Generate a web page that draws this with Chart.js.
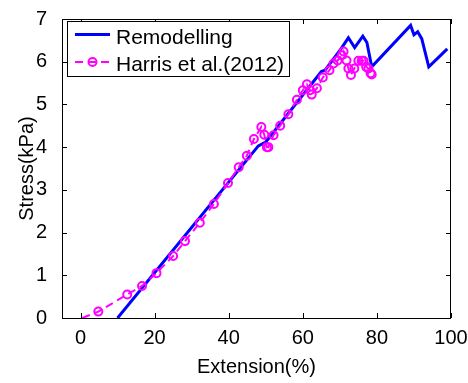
<!DOCTYPE html>
<html>
<head>
<meta charset="utf-8">
<script src="https://cdn.jsdelivr.net/npm/chart.js@4.4.0/dist/chart.umd.min.js"></script>
<style>
html, body { margin: 0; padding: 0; background: #fff; }
#wrap { width: 468px; height: 383px; }
</style>
</head>
<body>
<div id="wrap"><canvas id="chart"></canvas></div>
<script>
// valeurs
const remodX = [10, 48, 50, 65, 66, 70.3, 72.3, 74, 76.2, 77.3, 78.6, 89.1, 90, 91, 92.1, 94, 99];
const remodY = [0, 4.03, 4.12, 5.77, 5.8, 6.3, 6.56, 6.33, 6.6, 6.45, 5.88, 6.85, 6.63, 6.7, 6.54, 5.88, 6.3];

const harrisX = [0.5, 4.8, 12.6, 16.6, 20.5, 25, 28.2, 32.2, 36, 39.8, 42.7, 44.9, 46.8, 48.8, 49.6, 50.3, 50.7,
    52.1, 53.9, 56.1, 58.4, 60, 61.1, 62, 62.4, 63.8, 65.4, 67.2, 68.3, 69.4, 70.5, 71, 71.8, 72.3, 73,
    73.9, 75, 75.9, 76.4, 77.1, 77.7, 78.3, 78.6];
const harrisY = [0, 0.15, 0.55, 0.75, 1.05, 1.45, 1.8, 2.23, 2.67, 3.16, 3.53, 3.8, 4.19, 4.47, 4.29, 4.0, 4.0,
    4.28, 4.5, 4.77, 5.11, 5.33, 5.47, 5.33, 5.23, 5.38, 5.63, 5.8, 5.96, 6.03, 6.15, 6.24, 6.03, 5.84, 5.69,
    5.84, 6.02, 6.02, 6.02, 5.88, 5.84, 5.73, 5.7];

const xTicks = [0, 20, 40, 60, 80, 100];
const yTicks = [0, 1, 2, 3, 4, 5, 6, 7];

const FONT = '"Liberation Sans", Arial, sans-serif';
Chart.defaults.font.family = FONT;
Chart.defaults.color = "#000";

const toPoints = (xs, ys) => xs.map((v, i) => ({ x: v, y: ys[i] }));

// cadre + graduations vers l'intérieur + légende (style matlab)
const boxPlugin = {
    id: 'box',
    afterDraw(chart) {
        const { ctx, chartArea: a, scales: { x, y } } = chart;
        ctx.save();
        ctx.strokeStyle = "#000";
        ctx.lineWidth = 1;
        ctx.strokeRect(a.left + 0.5, a.top + 0.5, a.right - a.left - 1, a.bottom - a.top);
        ctx.beginPath();
        xTicks.forEach(v => {
            const px = Math.round(x.getPixelForValue(v)) + 0.5;
            ctx.moveTo(px, a.bottom); ctx.lineTo(px, a.bottom - 5);
            ctx.moveTo(px, a.top); ctx.lineTo(px, a.top + 5);
        });
        yTicks.forEach(v => {
            const py = Math.round(y.getPixelForValue(v)) + 0.5;
            ctx.moveTo(a.left, py); ctx.lineTo(a.left + 5, py);
            ctx.moveTo(a.right, py); ctx.lineTo(a.right - 5, py);
        });
        ctx.stroke();

        // légende
        const lx = 67.5, ly = 21.5, lw = 222, lh = 55;
        ctx.fillStyle = "#fff";
        ctx.fillRect(lx, ly, lw, lh);
        ctx.strokeRect(lx, ly, lw, lh);
        const ds = chart.data.datasets;
        ctx.font = '21px ' + FONT;
        ctx.fillStyle = "#000";
        ctx.textBaseline = 'alphabetic';

        ctx.strokeStyle = ds[0].borderColor;
        ctx.lineWidth = ds[0].borderWidth;
        ctx.beginPath(); ctx.moveTo(75, 34.5); ctx.lineTo(110, 34.5); ctx.stroke();
        ctx.fillText(ds[0].label, 116, 44);

        ctx.strokeStyle = ds[1].borderColor;
        ctx.lineWidth = ds[1].borderWidth;
        ctx.setLineDash(ds[1].borderDash);
        ctx.beginPath(); ctx.moveTo(75, 62); ctx.lineTo(110, 62); ctx.stroke();
        ctx.setLineDash([]);
        ctx.beginPath(); ctx.arc(92.5, 62, 4, 0, Math.PI * 2); ctx.stroke();
        ctx.fillText(ds[1].label, 116, 71);
        ctx.restore();
    }
};

const ctx0 = document.getElementById("chart");

const chart = new Chart(ctx0, {
    type: "line",
    data: {
        datasets: [{
            label: "Remodelling",
            data: toPoints(remodX, remodY),
            borderColor: "#0000ff",
            backgroundColor: "#0000ff",
            borderWidth: 3,
            pointRadius: 0,
            tension: 0,
            order: 2
        }, {
            label: "Harris et al.(2012)",
            data: toPoints(harrisX, harrisY),
            borderColor: "#ff00ff",
            backgroundColor: "rgba(0,0,0,0)",
            borderWidth: 2,
            borderDash: [8, 5],
            pointStyle: 'circle',
            pointRadius: c => c.dataIndex === 0 ? 0 : 4,
            pointBorderWidth: 2,
            pointBorderColor: "#ff00ff",
            pointBackgroundColor: "rgba(0,0,0,0)",
            tension: 0,
            order: 1
        }]
    },
    options: {
        responsive: true,
        maintainAspectRatio: false,
        animation: false,
        layout: { padding: { top: 15, right: 17, left: 0, bottom: 0 } },
        plugins: {
            legend: { display: false },
            tooltip: { enabled: false }
        },
        scales: {
            x: {
                type: 'linear',
                min: -5,
                max: 100,
                afterBuildTicks: s => { s.ticks = xTicks.map(v => ({ value: v })); },
                afterFit: s => { s.height = 65; },
                grid: { display: false },
                border: { display: false },
                ticks: { padding: 0, font: { size: 20 } },
                title: {
                    display: true,
                    text: 'Extension(%)',
                    font: { size: 20 },
                    padding: { top: 0, bottom: 4 }
                }
            },
            y: {
                type: 'linear',
                min: 0,
                max: 7,
                afterBuildTicks: s => { s.ticks = yTicks.map(v => ({ value: v })); },
                afterFit: s => { s.width = 62; },
                grid: { display: false },
                border: { display: false },
                ticks: { padding: 7, font: { size: 20 } },
                title: {
                    display: true,
                    text: 'Stress(kPa)',
                    font: { size: 20 },
                    padding: { top: 15, bottom: 0 }
                }
            }
        }
    },
    plugins: [boxPlugin]
});
</script>
</body>
</html>
